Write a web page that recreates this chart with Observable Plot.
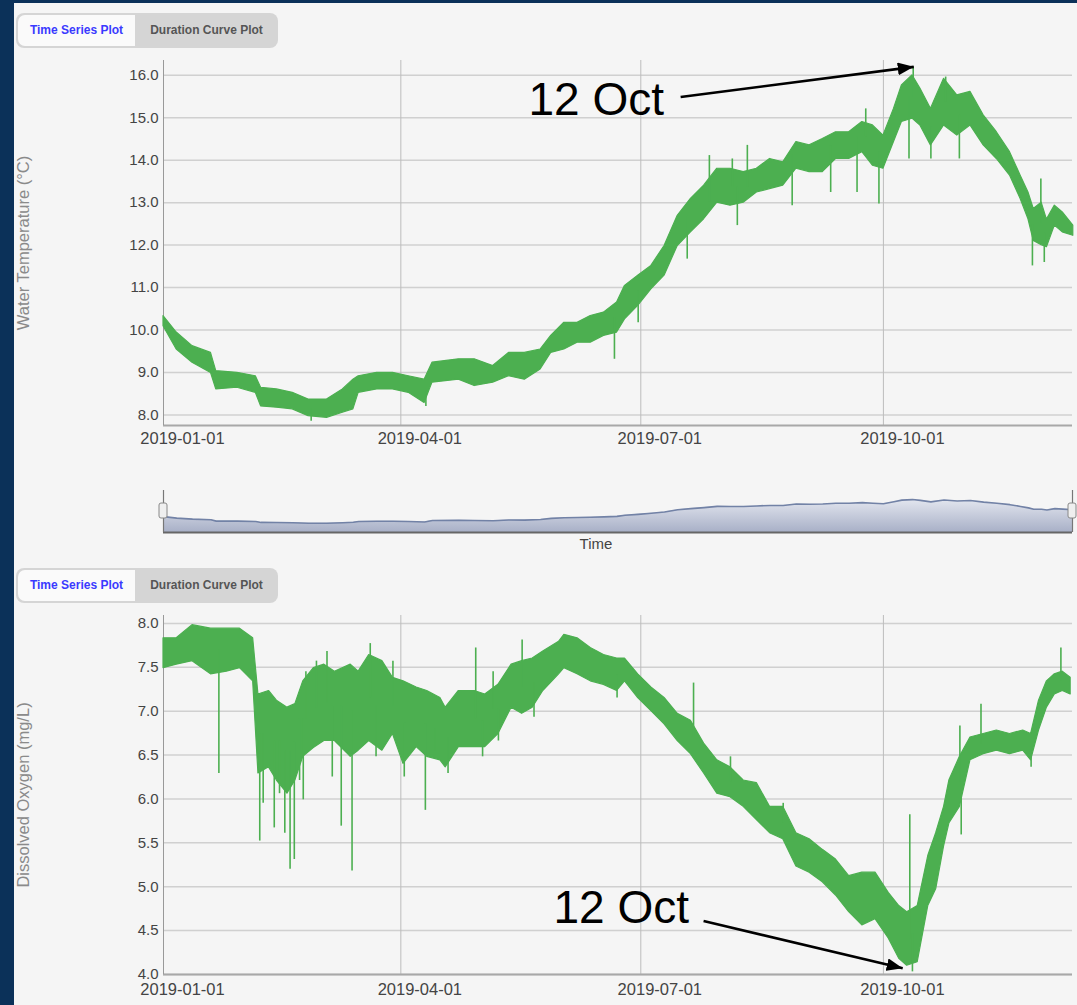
<!DOCTYPE html>
<html>
<head>
<meta charset="utf-8">
<script src="https://cdn.jsdelivr.net/npm/d3@7"></script>
<script src="https://cdn.jsdelivr.net/npm/@observablehq/plot@0.6"></script>
<style>
html,body{margin:0;padding:0;background:#0b3159;width:1077px;height:1005px;overflow:hidden;font-family:"Liberation Sans",Arial,sans-serif;}
#panel{position:absolute;left:14px;top:3px;width:1063px;height:1002px;background:#f5f5f5;overflow:hidden;}
.tabs{position:absolute;left:2px;width:262px;height:35px;background:#d5d5d5;border-radius:8px;}
.tab{position:absolute;font-size:12px;font-weight:bold;text-align:center;white-space:nowrap;}
.tab.active{left:2px;top:2px;height:31px;line-height:31px;width:117px;background:#fafafa;border-radius:7px 0 0 7px;color:#3a3aff;}
.tab.other{left:119px;top:0;height:35px;line-height:35px;width:143px;color:#555;}
.chart{position:absolute;left:0;}
.timelabel{position:absolute;left:532px;width:100px;top:532px;text-align:center;font-size:15px;color:#444;}
g[aria-label="y-axis label"]{fill:#8a8a8a;font-size:16.5px;}
g[aria-label="x-axis tick label"]{font-size:16.5px;}
</style>
</head>
<body>
<div id="panel">
  <div class="tabs" style="top:10px"><div class="tab active">Time Series Plot</div><div class="tab other">Duration Curve Plot</div></div>
  <div id="c1" class="chart" style="top:44px"></div>
  <div id="nav" class="chart" style="top:475px"></div>
  <div class="timelabel">Time</div>
  <div class="tabs" style="top:565px"><div class="tab active">Time Series Plot</div><div class="tab other">Duration Curve Plot</div></div>
  <div id="c2" class="chart" style="top:597px"></div>
</div>
<script>
// ---------- data (days since 2019-01-01) ----------
const startDate = "2019-01-01";
const endDay = 344.7;
const tickDates = ["2019-01-01", "2019-04-01", "2019-07-01", "2019-10-01"];
const tempTicks = [8, 9, 10, 11, 12, 13, 14, 15, 16];
const doTicks = [4.0, 4.5, 5.0, 5.5, 6.0, 6.5, 7.0, 7.5, 8.0];

const tempDay = [0,5,11,18,20,28,35,37,43,49,55,62,68,72,74,81,87,93,99,102,112,118,125,131,137,143,147,152,157,162,167,172,175,180,185,190,195,200,205,210,215,220,225,230,235,240,245,250,255,260,265,269,273,277,280,284,287,291,296,301,306,311,316,321,325,328,330,333,335,338,341,345];
const tempHi = [10.33,9.94,9.62,9.46,9.03,8.99,8.91,8.64,8.6,8.52,8.36,8.36,8.6,8.83,8.91,8.99,8.99,8.91,8.83,9.23,9.31,9.31,9.15,9.46,9.46,9.54,9.86,10.17,10.17,10.33,10.41,10.65,11.04,11.28,11.51,11.98,12.69,13.09,13.4,13.8,13.8,13.72,13.8,14.03,13.95,14.43,14.35,14.5,14.66,14.66,14.9,14.82,14.58,15.21,15.76,16.0,15.69,15.21,15.92,15.53,15.61,15.06,14.66,14.19,13.64,13.24,12.85,13.0,12.6,12.93,12.77,12.46];
const tempLo = [10.09,9.54,9.23,8.99,8.6,8.64,8.52,8.2,8.17,8.13,7.97,7.93,8.05,8.13,8.52,8.6,8.6,8.52,8.28,8.76,8.83,8.68,8.76,8.91,8.83,9.07,9.46,9.54,9.7,9.7,9.86,9.94,10.25,10.57,10.96,11.28,11.98,12.3,12.61,13.0,12.93,13.0,13.24,13.32,13.4,13.8,13.72,13.72,14.03,14.03,14.19,13.87,13.8,14.43,14.9,14.98,14.82,14.35,14.82,14.58,14.82,14.35,14.03,13.64,13.09,12.61,12.1,12.0,11.95,12.46,12.3,12.22];
const tempSpikeDay = [56,99.5,171,180,198.6,207,215.7,217.6,221.4,238.4,253,263,266.3,271.3,282.7,284.3,291,296.6,301.8,329.5,332.7,334];
const tempSpikeVal = [7.85,8.2,9.31,10.17,11.67,14.11,14.03,12.46,14.35,12.93,13.24,13.24,15.21,12.97,14.03,16.2,14.03,15.96,14.03,11.51,13.56,11.59];

const doDay = [0,5,11,18,24,29,34,36,40,43,47,50,53,57,61,65,71,74,78,83,87,91,96,100,105,107,112,118,122,127,132,136,140,144,150,152,157,162,167,172,175,180,185,190,195,200,205,210,215,220,225,230,235,240,245,250,255,260,265,270,275,279,282,286,290,293,296,298,302,306,311,316,321,326,329,332,335,338,341,344];
const doHi = [7.83,7.83,7.98,7.94,7.94,7.94,7.83,7.19,7.23,7.12,7.04,7.08,7.34,7.49,7.53,7.45,7.53,7.45,7.64,7.57,7.38,7.34,7.27,7.23,7.15,7.04,7.23,7.23,7.19,7.3,7.53,7.57,7.6,7.68,7.79,7.87,7.83,7.72,7.64,7.6,7.6,7.42,7.27,7.15,6.97,6.89,6.63,6.44,6.36,6.21,6.18,5.91,5.91,5.61,5.54,5.42,5.31,5.12,5.16,5.16,4.93,4.78,4.71,4.78,5.35,5.61,5.91,6.21,6.48,6.7,6.74,6.78,6.74,6.78,6.74,7.12,7.34,7.42,7.45,7.38];
const doLo = [7.49,7.53,7.57,7.42,7.45,7.49,7.34,6.29,6.36,6.21,6.06,6.21,6.48,6.58,6.66,6.66,6.48,6.55,6.66,6.55,6.74,6.4,6.59,6.48,6.44,6.36,6.59,6.59,6.59,6.74,7.04,6.97,7.04,7.23,7.42,7.49,7.42,7.34,7.3,7.23,7.34,7.15,7.0,6.85,6.66,6.51,6.29,6.06,6.02,5.91,5.76,5.61,5.54,5.23,5.16,5.05,4.9,4.71,4.56,4.63,4.41,4.18,4.1,4.14,4.78,4.97,5.46,5.72,5.91,6.44,6.51,6.55,6.51,6.55,6.44,6.78,7.04,7.19,7.23,7.19];
const doSpikeDay = [21,36.5,37.8,42,44,46,48,49.6,51.6,53,54,58,62,64,67.4,71.5,78.4,80.6,87,91.3,99.3,103,107.9,118.4,121,125,127,136,140.5,172,201,215,235,283,284,302,302.5,310,329,340.3];
const doSpikeVal = [6.29,5.52,5.95,5.67,6.06,5.61,5.2,5.31,6.21,5.99,7.45,7.57,7.68,6.25,5.69,5.18,7.77,6.48,7.57,6.25,5.87,6.55,6.29,7.72,6.48,7.45,6.66,7.81,6.93,7.15,7.32,6.48,5.95,5.82,4.03,6.83,5.59,7.08,6.36,7.72];

const noteLabel = "12 Oct";
const tempNote = [138.4, 15.42];             // label position (day, °C)
const tempArrow = [196.1, 15.49, 284.5, 16.2]; // from (day, °C) to (day, °C)
const doNote = [147.9, 4.76];
const doArrow = [204.8, 4.61, 280.3, 4.07];

// ---------- helpers ----------
const FONT = '"Liberation Sans", Arial, Helvetica, sans-serif';
const GREEN = "#4caf50";
const t0 = new Date(startDate + "T00:00Z").getTime();
const toDate = d => new Date(t0 + d * 864e5);
const xDomain = [toDate(0), toDate(endDay)];
const ticks = tickDates.map(s => new Date(s + "T00:00Z"));

const band = (days, hi, lo) => days.map((d, i) => ({day: d, date: toDate(d), hi: hi[i], lo: lo[i], mid: (hi[i] + lo[i]) / 2}));
const spikes = (days, vals, b) => {
  const bis = d3.bisector(d => d.day).center;
  return days.map((d, i) => ({date: toDate(d), value: vals[i], base: b[bis(b, d)].mid}));
};
const tempBand = band(tempDay, tempHi, tempLo);
const doBand = band(doDay, doHi, doLo);
const tempSp = spikes(tempSpikeDay, tempSpikeVal, tempBand);
const doSp = spikes(doSpikeDay, doSpikeVal, doBand);

function fixMarkers(svg) {
  svg.querySelectorAll("marker").forEach(m => {
    m.setAttribute("viewBox", "-10 -4 10 8");
    m.setAttribute("markerUnits", "userSpaceOnUse");
    m.setAttribute("markerWidth", "16");
    m.setAttribute("markerHeight", "12.8");
    m.setAttribute("fill", "#000");
    m.setAttribute("stroke", "none");
    m.querySelectorAll("path").forEach(p => p.setAttribute("d", "M-10,-4L0,0L-10,4Z"));
  });
}

function mainChart(b, sp, yDomain, yTicks, label, note, arrow, mt, mb, xPad) {
  const svg = Plot.plot({
    width: 1063, height: 405, marginTop: mt, marginBottom: mb, marginLeft: 149, marginRight: 5,
    style: {background: "none", fontFamily: FONT, fontSize: "15px", color: "#444", overflow: "visible"},
    x: {type: "utc", domain: xDomain},
    y: {domain: yDomain},
    marks: [
      Plot.gridY(yTicks, {stroke: "#d0d0d0", strokeOpacity: 1, strokeWidth: 1.5}),
      Plot.gridX(ticks.slice(1), {stroke: "#bdbdbd", strokeOpacity: 1}),
      Plot.ruleY([yDomain[0]], {stroke: "#a8a8a8", strokeWidth: 2}),
      Plot.ruleX([xDomain[0]], {stroke: "#999"}),
      Plot.areaY(b, {x: "date", y1: "lo", y2: "hi", fill: GREEN, stroke: GREEN, strokeWidth: 1.2}),
      Plot.ruleX(sp, {x: "date", y1: "base", y2: "value", stroke: GREEN, strokeWidth: 1.6}),
      Plot.axisY(yTicks, {tickFormat: d3.format(".1f"), tickSize: 0, tickPadding: 5, label, labelAnchor: "center", labelOffset: 146, labelArrow: "none"}),
      Plot.axisX(ticks, {tickFormat: d3.utcFormat("%Y-%m-%d"), tickSize: 0, tickPadding: xPad, dx: 19, label: null}),
      Plot.link([arrow], {x1: a => toDate(a[0]), y1: a => a[1], x2: a => toDate(a[2]), y2: a => a[3], stroke: "#000", strokeWidth: 2.6, markerEnd: "arrow"}),
      Plot.text([note], {x: n => toDate(n[0]), y: n => n[1], text: () => noteLabel, textAnchor: "start", lineAnchor: "middle", fontSize: 46, fill: "#000", fontFamily: FONT})
    ]
  });
  fixMarkers(svg);
  return svg;
}

document.getElementById("c1").append(mainChart(tempBand, tempSp, [7.75, 16.35], tempTicks, "Water Temperature (°C)", tempNote, tempArrow, 13, 27, 7));
document.getElementById("c2").append(mainChart(doBand, doSp, [4.0, 8.09], doTicks, "Dissolved Oxygen (mg/L)", doNote, doArrow, 15, 31, 9));

// navigator
const gradient = () => {
  const defs = d3.create("svg:defs");
  const g = defs.append("linearGradient").attr("id", "navGrad").attr("x1", 0).attr("x2", 0).attr("y1", 0).attr("y2", 1);
  g.append("stop").attr("offset", "0%").attr("stop-color", "#e3e6ef");
  g.append("stop").attr("offset", "100%").attr("stop-color", "#a8b0c7");
  return defs.node();
};
const navY = [5.3, 18.3];
const nav = Plot.plot({
  width: 1063, height: 60, marginTop: 12, marginBottom: 6, marginLeft: 149, marginRight: 5,
  style: {background: "none", overflow: "visible"},
  x: {type: "utc", domain: xDomain, axis: null},
  y: {domain: navY, axis: null},
  marks: [
    gradient,
    Plot.areaY(tempBand, {x: "date", y1: navY[0], y2: "mid", fill: "url(#navGrad)"}),
    Plot.lineY(tempBand, {x: "date", y: "mid", stroke: "#7282a6", strokeWidth: 1.6}),
    Plot.ruleY([navY[0]], {stroke: "#666", strokeWidth: 2}),
    Plot.ruleX(xDomain, {stroke: "#777", strokeWidth: 1.2}),
    Plot.rect(xDomain, {x1: d => d, x2: d => d, insetLeft: -4, insetRight: -4, insetTop: 13, insetBottom: 14, fill: "#efefef", stroke: "#888", rx: 2})
  ]
});
document.getElementById("nav").append(nav);
</script>
</body>
</html>
